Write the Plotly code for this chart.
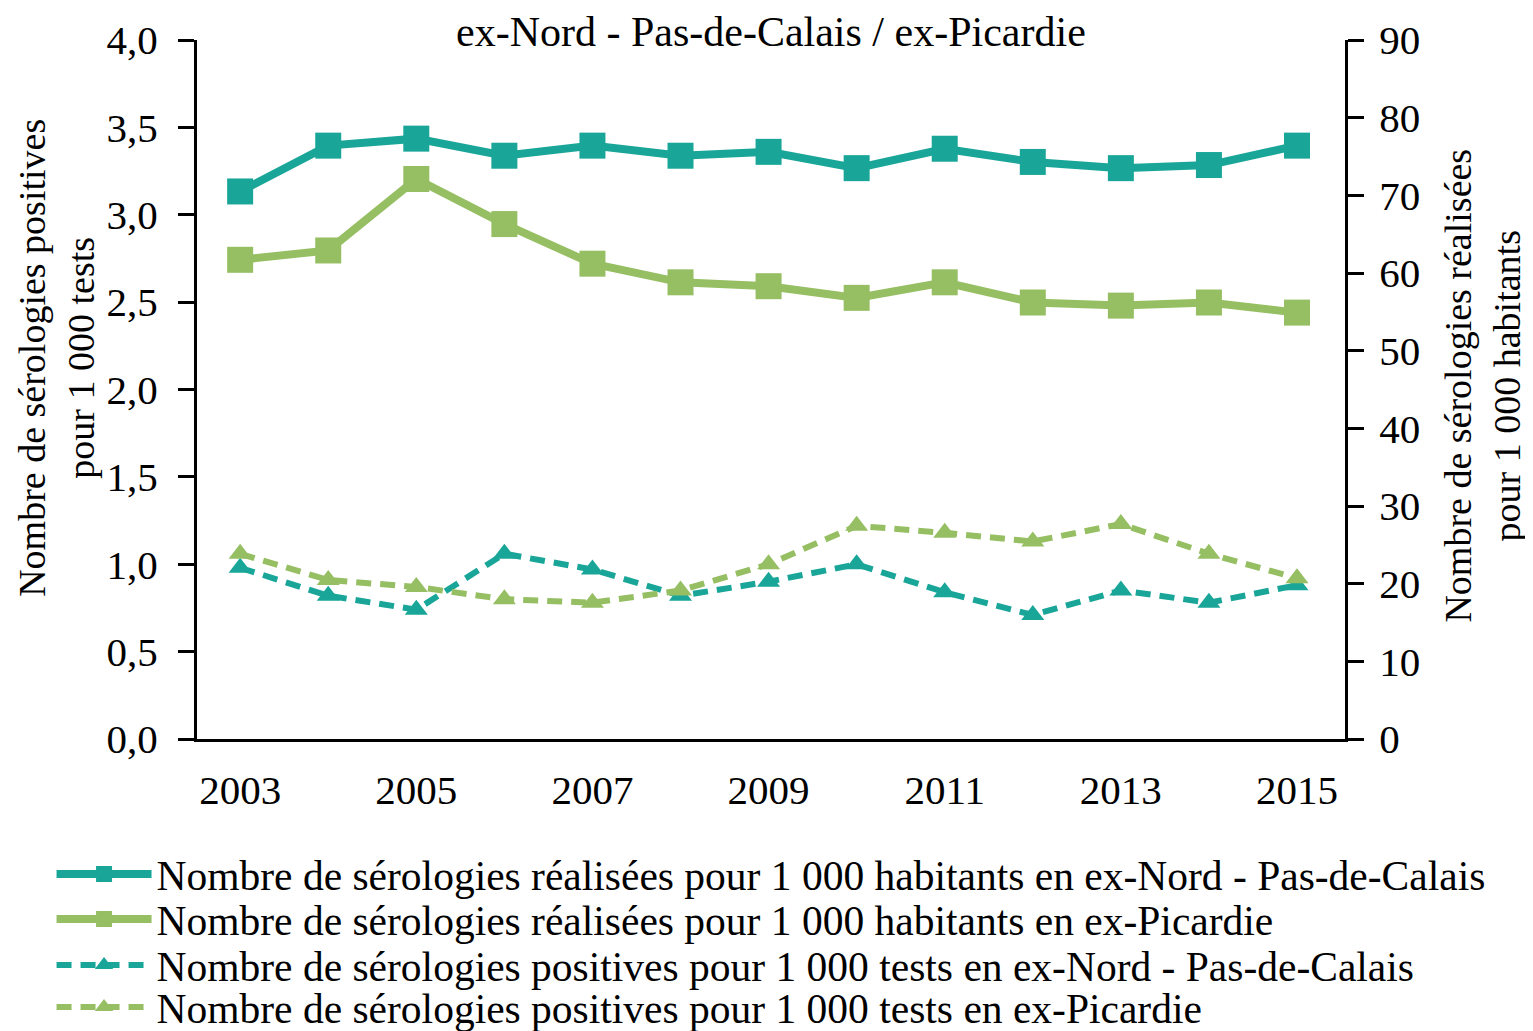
import plotly.graph_objects as go

years = list(range(2003, 2016))
realisees_npdc = [70.5, 76.4, 77.3, 75.1, 76.4, 75.1, 75.6, 73.5, 76.0, 74.3, 73.5, 73.9, 76.4]
realisees_pic = [61.7, 62.9, 72.1, 66.3, 61.2, 58.8, 58.3, 56.8, 58.8, 56.2, 55.8, 56.2, 54.9]
positives_npdc = [0.98, 0.82, 0.74, 1.06, 0.97, 0.82, 0.90, 1.00, 0.84, 0.71, 0.85, 0.78, 0.88]
positives_pic = [1.06, 0.91, 0.87, 0.80, 0.78, 0.85, 1.00, 1.22, 1.18, 1.13, 1.23, 1.06, 0.92]
year_ticks = [2003, 2005, 2007, 2009, 2011, 2013, 2015]

names = [
    "Nombre de sérologies réalisées pour 1 000 habitants en ex-Nord - Pas-de-Calais",
    "Nombre de sérologies réalisées pour 1 000 habitants en ex-Picardie",
    "Nombre de sérologies positives pour 1 000 tests en ex-Nord - Pas-de-Calais",
    "Nombre de sérologies positives pour 1 000 tests en ex-Picardie",
]
chart_title = "ex-Nord - Pas-de-Calais / ex-Picardie"
left_title = "Nombre de sérologies positives<br>pour 1 000 tests"
right_title = "Nombre de sérologies réalisées<br>pour 1 000 habitants"

teal = "#19A699"
green = "#96BF63"
FONT = "Liberation Serif"

fig = go.Figure()
fig.add_trace(go.Scatter(x=years, y=realisees_npdc, name=names[0], yaxis="y2", legend="legend",
                         mode="lines+markers", line=dict(color=teal, width=8),
                         marker=dict(symbol="square", size=26, color=teal)))
fig.add_trace(go.Scatter(x=years, y=realisees_pic, name=names[1], yaxis="y2", legend="legend2",
                         mode="lines+markers", line=dict(color=green, width=8),
                         marker=dict(symbol="square", size=26, color=green)))
fig.add_trace(go.Scatter(x=years, y=positives_npdc, name=names[2], yaxis="y", legend="legend3",
                         mode="lines+markers", line=dict(color=teal, width=6, dash="15px,9px"),
                         marker=dict(symbol="triangle-up", size=20, color=teal)))
fig.add_trace(go.Scatter(x=years, y=positives_pic, name=names[3], yaxis="y", legend="legend4",
                         mode="lines+markers", line=dict(color=green, width=6, dash="15px,9px"),
                         marker=dict(symbol="triangle-up", size=20, color=green)))

def leg(yc):
    return dict(x=-0.1267, y=yc, xanchor="left", yanchor="middle",
                font=dict(family=FONT, size=41.5, color="black"),
                itemwidth=95, bgcolor="rgba(0,0,0,0)", borderwidth=0)

fig.update_layout(
    width=1525, height=1023,
    margin=dict(l=189, r=188, t=32, b=292, autoexpand=False),
    paper_bgcolor="white", plot_bgcolor="white",
    separators=", ",
    font=dict(family=FONT, size=40, color="black"),
    showlegend=True,
    legend=leg(-0.1931),
    legend2=leg(-0.2575),
    legend3=leg(-0.3233),
    legend4=leg(-0.3834),
    xaxis=dict(range=[2002.51, 2015.545], tickvals=year_ticks,
               showgrid=False, zeroline=False, showline=True, linecolor="black", linewidth=3,
               ticks="", tickfont=dict(size=41), ticklabelstandoff=13),
    yaxis=dict(range=[0, 4.0], dtick=0.5, tickformat=".1f", showgrid=False, zeroline=False,
               showline=True, linecolor="black", linewidth=3, ticks="outside", ticklen=16,
               tickwidth=3, tickcolor="black", tickfont=dict(size=41), ticklabelstandoff=12),
    yaxis2=dict(range=[0, 90], dtick=10, overlaying="y", side="right", showgrid=False,
                zeroline=False, showline=True, linecolor="black", linewidth=3,
                ticks="outside", ticklen=16, tickwidth=3, tickcolor="black",
                tickfont=dict(size=41), ticklabelstandoff=7),
    annotations=[
        dict(text=chart_title, xref="paper", yref="paper",
             x=0.5, y=1, yanchor="middle", yshift=8, showarrow=False,
             font=dict(family=FONT, size=42, color="black")),
        dict(text=left_title, xref="paper", yref="paper", x=-0.123, y=0.545,
             xanchor="center", yanchor="middle", textangle=-90, showarrow=False,
             font=dict(family=FONT, size=38, color="black")),
        dict(text=right_title, xref="paper", yref="paper", x=1.119, y=0.505,
             xanchor="center", yanchor="middle", textangle=-90, showarrow=False,
             font=dict(family=FONT, size=38, color="black")),
    ],
)

fig.write_html("out.html")
